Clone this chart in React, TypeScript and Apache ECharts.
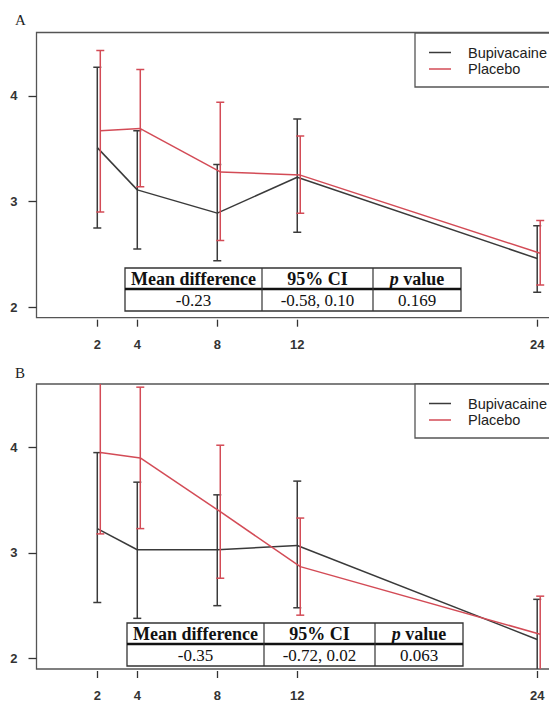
import React, { useEffect, useRef } from "react";
import * as echarts from "echarts";

// Time points (hours) and tick labels
const hours = [2, 4, 8, 12, 24];
const xTickLabels = ["2", "4", "8", "12", "24"];
const yTicks = [2, 3, 4];
const seriesNames = ["Bupivacaine", "Placebo"];
const panelLabels = ["A", "B"];

// Panel A
const aBupMean = [3.51, 3.11, 2.89, 3.23, 2.46];
const aBupLow = [2.75, 2.55, 2.44, 2.71, 2.14];
const aBupHigh = [4.27, 3.67, 3.35, 3.78, 2.77];
const aPlaMean = [3.67, 3.69, 3.28, 3.25, 2.51];
const aPlaLow = [2.9, 3.14, 2.63, 2.89, 2.21];
const aPlaHigh = [4.43, 4.25, 3.94, 3.62, 2.82];

// Panel B
const bBupMean = [3.23, 3.03, 3.03, 3.07, 2.18];
const bBupLow = [2.53, 2.38, 2.5, 2.48, 1.81];
const bBupHigh = [3.95, 3.67, 3.55, 3.68, 2.56];
const bPlaMean = [3.95, 3.9, 3.39, 2.87, 2.23];
const bPlaLow = [3.18, 3.23, 2.76, 2.41, 1.87];
const bPlaHigh = [4.72, 4.57, 4.02, 3.33, 2.59];

// Tables
const tableHeaders = ["Mean difference", "95% CI", "p value"];
const tableA = ["-0.23", "-0.58, 0.10", "0.169"];
const tableB = ["-0.35", "-0.72, 0.02", "0.063"];

const BLACK = "#3a3a3a";
const RED = "#d34b56";
const SANS = "'Liberation Sans', Arial, sans-serif";
const SERIF = "'Liberation Serif', 'Times New Roman', serif";

function errSeries(name: string, gi: number, mean: number[], low: number[], high: number[], color: string, dx: number, z: number) {
  const data = hours.map((h, i) => [h, mean[i], low[i], high[i]]);
  return {
    type: "custom",
    name,
    xAxisIndex: gi,
    yAxisIndex: gi,
    clip: true,
    z,
    data,
    encode: { x: 0, y: [1, 2, 3] },
    renderItem: (params: any, api: any) => {
      const i = params.dataIndex;
      const x = api.value(0);
      const pm = api.coord([x, api.value(1)]);
      const pl = api.coord([x, api.value(2)]);
      const ph = api.coord([x, api.value(3)]);
      const px = pm[0] + dx;
      const st = { stroke: color, lineWidth: 1.5 };
      const cap = 4;
      const children: any[] = [
        { type: "line", shape: { x1: px, y1: ph[1], x2: px, y2: pl[1] }, style: st },
        { type: "line", shape: { x1: px - cap, y1: ph[1], x2: px + cap, y2: ph[1] }, style: st },
        { type: "line", shape: { x1: px - cap, y1: pl[1], x2: px + cap, y2: pl[1] }, style: st },
      ];
      if (i < data.length - 1) {
        const nx = api.coord([data[i + 1][0], data[i + 1][1]]);
        children.push({ type: "line", shape: { x1: px, y1: pm[1], x2: nx[0] + dx, y2: nx[1] }, style: st });
      }
      return { type: "group", children };
    },
  };
}

function legendGraphic(top: number) {
  return {
    type: "group",
    z: 100,
    children: [
      { type: "rect", shape: { x: 415, y: top, width: 200, height: 54 }, style: { fill: "#fff", stroke: "#555", lineWidth: 1.3 } },
      { type: "line", shape: { x1: 429, y1: top + 19.5, x2: 451, y2: top + 19.5 }, style: { stroke: BLACK, lineWidth: 1.5 } },
      { type: "line", shape: { x1: 429, y1: top + 36, x2: 451, y2: top + 36 }, style: { stroke: RED, lineWidth: 1.5 } },
      { type: "text", x: 468, y: top + 19.5, style: { text: seriesNames[0], font: `14.5px ${SANS}`, fill: "#222", verticalAlign: "middle" } },
      { type: "text", x: 468, y: top + 36, style: { text: seriesNames[1], font: `14.5px ${SANS}`, fill: "#222", verticalAlign: "middle" } },
    ],
  };
}

function tableGraphic(left: number, top: number, values: string[]) {
  const widths = [137, 111, 88];
  const xs = [left, left + widths[0], left + widths[0] + widths[1]];
  const total = widths[0] + widths[1] + widths[2];
  const h1 = 21;
  const h2 = 22;
  const children: any[] = [
    { type: "rect", shape: { x: left, y: top, width: total, height: h1 + h2 }, style: { fill: "#fff", stroke: "#333", lineWidth: 1.3 } },
    { type: "line", shape: { x1: left, y1: top + h1, x2: left + total, y2: top + h1 }, style: { stroke: "#111", lineWidth: 2.6 } },
    { type: "line", shape: { x1: xs[1], y1: top, x2: xs[1], y2: top + h1 + h2 }, style: { stroke: "#333", lineWidth: 1.2 } },
    { type: "line", shape: { x1: xs[2], y1: top, x2: xs[2], y2: top + h1 + h2 }, style: { stroke: "#333", lineWidth: 1.2 } },
  ];
  tableHeaders.forEach((hd, k) => {
    const cx = xs[k] + widths[k] / 2;
    const isP = hd.startsWith("p ");
    children.push({
      type: "text",
      x: cx,
      y: top + h1 / 2 + 0.5,
      style: isP
        ? {
            text: `{i|p}{b|${hd.slice(1)}}`,
            rich: {
              i: { font: `italic bold 18px ${SERIF}`, fill: "#111" },
              b: { font: `bold 18px ${SERIF}`, fill: "#111" },
            },
            align: "center",
            verticalAlign: "middle",
          }
        : { text: hd, font: `bold 18px ${SERIF}`, fill: "#111", align: "center", verticalAlign: "middle" },
    });
    children.push({
      type: "text",
      x: cx,
      y: top + h1 + h2 / 2 + 0.5,
      style: { text: values[k], font: `17px ${SERIF}`, fill: "#111", align: "center", verticalAlign: "middle" },
    });
  });
  return { type: "group", z: 100, children };
}

function xAxisOpt(gi: number) {
  return {
    type: "value",
    gridIndex: gi,
    min: -1.04,
    max: 27.04,
    offset: 2,
    axisLine: { show: false, onZero: false },
    splitLine: { show: false },
    axisTick: { show: true, customValues: hours, length: 7, lineStyle: { color: "#333", width: 1.3 } },
    axisLabel: {
      customValues: hours,
      formatter: (v: number) => xTickLabels[hours.indexOf(v)] ?? String(v),
      fontWeight: "bold",
      fontSize: 13,
      fontFamily: SANS,
      color: "#333",
      margin: 18,
    },
  };
}

function yAxisOpt(gi: number) {
  return {
    type: "value",
    gridIndex: gi,
    min: 1.9,
    max: 4.6,
    axisLine: { show: false, onZero: false },
    splitLine: { show: false },
    axisTick: { show: true, customValues: yTicks, length: 8, lineStyle: { color: "#333", width: 1.3 } },
    axisLabel: {
      customValues: yTicks,
      fontWeight: "bold",
      fontSize: 13,
      fontFamily: SANS,
      color: "#333",
      margin: 19,
    },
  };
}

export default function App() {
  const ref = useRef<HTMLDivElement>(null);
  useEffect(() => {
    if (!ref.current) return;
    const chart = echarts.init(ref.current, null, { renderer: "svg" });
    const gridBase = {
      left: 36.5,
      width: 561.5,
      outerBoundsMode: "none",
      containLabel: false,
      show: true,
      borderColor: "#555",
      borderWidth: 1.3,
      backgroundColor: "transparent",
    };
    chart.setOption({
      animation: false,
      backgroundColor: "#fff",
      grid: [
        { ...gridBase, top: 32.5, height: 285.2 },
        { ...gridBase, top: 384, height: 285 },
      ],
      xAxis: [xAxisOpt(0), xAxisOpt(1)],
      yAxis: [yAxisOpt(0), yAxisOpt(1)],
      series: [
        errSeries(seriesNames[0], 0, aBupMean, aBupLow, aBupHigh, BLACK, 0, 2),
        errSeries(seriesNames[1], 0, aPlaMean, aPlaLow, aPlaHigh, RED, 3, 3),
        errSeries(seriesNames[0], 1, bBupMean, bBupLow, bBupHigh, BLACK, 0, 2),
        errSeries(seriesNames[1], 1, bPlaMean, bPlaLow, bPlaHigh, RED, 3, 3),
      ],
      graphic: [
        { type: "text", x: 15, y: 20, z: 100, style: { text: panelLabels[0], font: `15px ${SERIF}`, fill: "#222", verticalAlign: "middle" } },
        { type: "text", x: 15, y: 373, z: 100, style: { text: panelLabels[1], font: `15px ${SERIF}`, fill: "#222", verticalAlign: "middle" } },
        legendGraphic(33),
        legendGraphic(384),
        tableGraphic(125, 268, tableA),
        tableGraphic(127, 623, tableB),
      ],
    });
    return () => chart.dispose();
  }, []);
  return <div ref={ref} style={{ position: "absolute", left: 0, top: 0, width: 549, height: 704 }} />;
}
